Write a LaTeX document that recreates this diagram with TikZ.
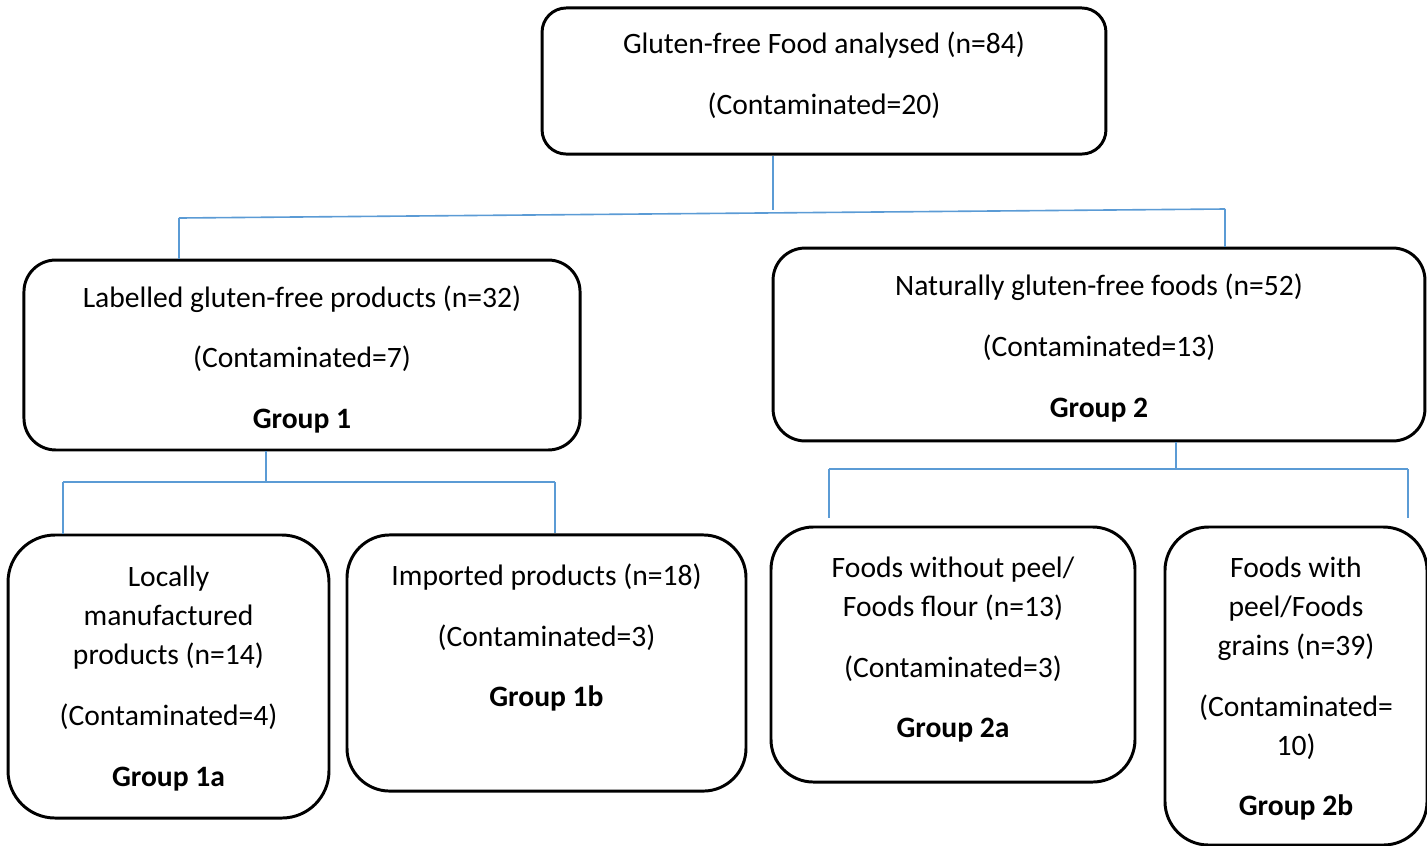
\documentclass[tikz,border=0pt]{standalone}
\usepackage{fontspec}
\setmainfont{Carlito}
\definecolor{linkblue}{RGB}{91,155,213}
\tikzstyle{gbox}=[draw=black,line width=1.1pt,inner sep=0pt]
\tikzstyle{glink}=[draw=linkblue,line width=0.6pt]
\newcommand{\gtext}[4][17.5pt]{\parbox[c][#3][t]{#2}{\centering\fontsize{11}{14.5}\selectfont\setlength{\parskip}{8pt}\rule{0pt}{#1}#4}}

\begin{document}
\begin{tikzpicture}[x=0.3717pt,y=-0.3717pt]
\useasboundingbox (0,0) rectangle (1427,845);
\node[gbox,rounded corners=9pt] (G) at (824,81) {\gtext[17.1pt]{209.6pt}{54.3pt}{Gluten-free Food analysed (n=84)\par(Contaminated=20)}};
\node[gbox,rounded corners=11.8pt] (G1) at (302,355) {\gtext[17.5pt]{206.7pt}{70.6pt}{Labelled gluten-free products (n=32)\par(Contaminated=7)\par\textbf{Group 1}}};
\node[gbox,rounded corners=11.9pt] (G2) at (1099,344.5) {\gtext[17.8pt]{242.3pt}{71.7pt}{Naturally gluten-free foods (n=52)\par(Contaminated=13)\par\textbf{Group 2}}};
\node[gbox,rounded corners=17.5pt] (G1a) at (168.5,676.5) {\gtext[19.3pt]{119.3pt}{105.2pt}{Locally\\manufactured\\products (n=14)\par(Contaminated=4)\par\textbf{Group 1a}}};
\node[gbox,rounded corners=15.9pt] (G1b) at (546.5,663) {\gtext[18.9pt]{148.3pt}{95.2pt}{Imported products (n=18)\par(Contaminated=3)\par\textbf{Group 1b}}};
\node[gbox,rounded corners=15.8pt] (G2a) at (953,654.5) {\gtext[18.9pt]{135.3pt}{94.8pt}{Foods without peel/\\Foods flour (n=13)\par(Contaminated=3)\par\textbf{Group 2a}}};
\node[gbox,rounded corners=16.2pt] (G2b) at (1296,686) {\gtext[18.9pt]{97.4pt}{118.2pt}{Foods with\\peel/Foods\\grains (n=39)\par(Contaminated=\\10)\par\textbf{Group 2b}}};
% top split
\coordinate (GJ) at (773,210);
\coordinate (GL) at (179,218);
\coordinate (GR) at (1225,209);
\draw[glink] (G.south -| GJ) -- (GJ);
\draw[glink] (GL) -- (GR);
\draw[glink] (GL) -- (GL |- G1.north);
\draw[glink] (GR) -- (GR |- G2.north);
% group 1 split
\coordinate (G1J) at (266,482);
\coordinate (G1L) at (63,482);
\coordinate (G1R) at (555,482);
\draw[glink] (G1.south -| G1J) -- (G1J);
\draw[glink] (G1L) -- (G1R);
\draw[glink] (G1L) -- (G1L |- G1a.north);
\draw[glink] (G1R) -- (G1R |- G1b.north);
% group 2 split
\coordinate (G2J) at (1176,469);
\coordinate (G2L) at (829,469);
\coordinate (G2R) at (1408,469);
\coordinate (G2Le) at (829,518);
\coordinate (G2Re) at (1408,518);
\draw[glink] (G2.south -| G2J) -- (G2J);
\draw[glink] (G2L) -- (G2R);
\draw[glink] (G2L) -- (G2Le);
\draw[glink] (G2R) -- (G2Re);
\end{tikzpicture}
\end{document}
